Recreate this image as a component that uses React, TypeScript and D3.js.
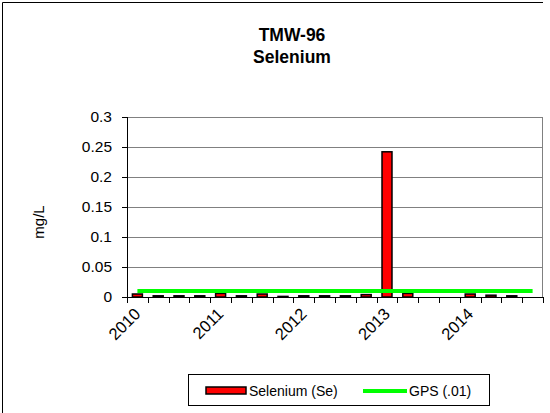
import { useRef, useEffect } from 'react';
import * as d3 from 'd3';

// Quarterly samples, 2010 Q1 .. 2014 Q4
const quarters = d3.range(20).map(i => `Q${i}`);
const tickLabels = ['2010', '', '', '', '2011', '', '', '', '2012', '', '', '', '2013', '', '', '', '2014', '', '', ''];
const selenium: (number | null)[] = [
    0.005, 0.002, 0.002, 0.002, 0.006, 0.002, 0.005, 0.001, 0.002, 0.002,
    0.002, 0.004, 0.242, 0.006, null, null, 0.005, 0.003, 0.002, null,
];
const gps = quarters.map(() => 0.01);
const yTicks = [0, 0.05, 0.1, 0.15, 0.2, 0.25, 0.3];

export default function App() {
    const ref = useRef<SVGSVGElement>(null);

    useEffect(() => {
        if (!ref.current) return;
        const svg = d3.select(ref.current);
        svg.selectAll('*').remove();

        const width = 550;
        const height = 413;
        const font = "'Liberation Sans', Arial, sans-serif";
        const margin = { top: 117, right: 7, bottom: 116, left: 127 };
        const innerW = width - margin.left - margin.right;
        const innerH = height - margin.top - margin.bottom;

        svg.attr('width', width).attr('height', height)
            .style('display', 'block')
            .style('position', 'absolute')
            .style('left', '0px')
            .style('top', '0px');

        svg.append('rect').attr('width', width).attr('height', height).attr('fill', '#fff');

        // outer border (top and left visible)
        svg.append('path')
            .attr('d', `M2.5,${height} V2.5 H${width - 7}`)
            .attr('fill', 'none')
            .attr('stroke', '#000')
            .attr('stroke-width', 1);

        // title
        const title = svg.append('text')
            .attr('text-anchor', 'middle')
            .attr('font-family', font)
            .attr('font-weight', 'bold')
            .attr('font-size', '17.5px')
            .attr('fill', '#000');
        title.append('tspan').attr('x', 292).attr('y', 41).text('TMW-96');
        title.append('tspan').attr('x', 292).attr('y', 63).text('Selenium');

        const g = svg.append('g').attr('transform', `translate(${margin.left},${margin.top})`);

        const x = d3.scaleBand().domain(quarters).range([0, innerW]).paddingInner(0).paddingOuter(0);
        const y = d3.scaleLinear().domain([0, 0.3]).range([innerH, 0]);

        // gridlines
        g.selectAll('.grid')
            .data(yTicks.filter(t => t > 0))
            .enter()
            .append('line')
            .attr('x1', 0)
            .attr('x2', innerW)
            .attr('y1', d => Math.round(y(d)) + 0.5)
            .attr('y2', d => Math.round(y(d)) + 0.5)
            .attr('stroke', '#808080')
            .attr('stroke-width', 1);

        // right edge of plot
        g.append('line')
            .attr('x1', innerW - 0.5)
            .attr('x2', innerW - 0.5)
            .attr('y1', y(0.3))
            .attr('y2', innerH)
            .attr('stroke', '#808080');

        // Bars
        const bw = x.bandwidth() * 0.48;
        g.selectAll('.bar')
            .data(selenium.map((v, i) => ({ q: quarters[i], v })).filter(d => d.v !== null))
            .enter()
            .append('rect')
            .attr('x', d => x(d.q)! + (x.bandwidth() - bw) / 2)
            .attr('y', d => y(d.v as number))
            .attr('width', bw)
            .attr('height', d => innerH - y(d.v as number))
            .attr('fill', '#ff0000')
            .attr('stroke', '#000')
            .attr('stroke-width', 1.5);

        // GPS line
        const line = d3.line<number>()
            .x((_, i) => x(quarters[i])! + x.bandwidth() / 2)
            .y(d => y(d));
        g.append('path')
            .datum(gps)
            .attr('d', line)
            .attr('fill', 'none')
            .attr('stroke', '#00ff00')
            .attr('stroke-width', 4);

        // Y axis
        const yAxis = g.append('g')
            .call(d3.axisLeft(y).tickValues(yTicks).tickSize(5).tickPadding(10).tickFormat(d => `${d}`));
        yAxis.selectAll('text')
            .attr('font-family', font)
            .attr('font-size', '15.5px')
            .attr('fill', '#000');
        yAxis.select('.domain').attr('d', `M0.5,${innerH} V${y(0.3)}`).attr('stroke', '#000');

        // X axis
        const xAxis = g.append('g').attr('transform', `translate(0,${innerH})`);
        xAxis.append('line')
            .attr('x1', -5).attr('x2', innerW)
            .attr('y1', 0.5).attr('y2', 0.5)
            .attr('stroke', '#000');
        xAxis.selectAll('.xtick')
            .data(d3.range(21))
            .enter()
            .append('line')
            .attr('x1', i => Math.round(i * x.step()) + 0.5)
            .attr('x2', i => Math.round(i * x.step()) + 0.5)
            .attr('y1', 0)
            .attr('y2', 6)
            .attr('stroke', '#000');
        xAxis.selectAll('.xlabel')
            .data(quarters.map((q, i) => ({ q, label: tickLabels[i] })).filter(d => d.label))
            .enter()
            .append('text')
            .attr('transform', d => `translate(${x(d.q)! + x.bandwidth() / 2 + 4},${18}) rotate(-45)`)
            .attr('text-anchor', 'end')
            .attr('font-family', font)
            .attr('font-size', '16.5px')
            .attr('fill', '#000')
            .text(d => d.label);

        // Y axis title
        svg.append('text')
            .attr('transform', `translate(44,222) rotate(-90)`)
            .attr('text-anchor', 'middle')
            .attr('font-family', font)
            .attr('font-size', '15px')
            .attr('fill', '#000')
            .text('mg/L');

        // Legend
        const lg = svg.append('g');
        lg.append('rect')
            .attr('x', 188.5).attr('y', 374.5)
            .attr('width', 301).attr('height', 31)
            .attr('fill', '#fff')
            .attr('stroke', '#000');
        lg.append('rect')
            .attr('x', 206).attr('y', 387)
            .attr('width', 40).attr('height', 7)
            .attr('fill', '#ff0000')
            .attr('stroke', '#000')
            .attr('stroke-width', 1.5);
        lg.append('text')
            .attr('x', 249).attr('y', 396)
            .attr('font-family', font)
            .attr('font-size', '14px')
            .attr('fill', '#000')
            .text('Selenium (Se)');
        lg.append('line')
            .attr('x1', 363).attr('x2', 407)
            .attr('y1', 391).attr('y2', 391)
            .attr('stroke', '#00ff00')
            .attr('stroke-width', 4);
        lg.append('text')
            .attr('x', 409).attr('y', 396)
            .attr('font-family', font)
            .attr('font-size', '14px')
            .attr('fill', '#000')
            .text('GPS (.01)');
    }, []);

    return <svg ref={ref}></svg>;
}
